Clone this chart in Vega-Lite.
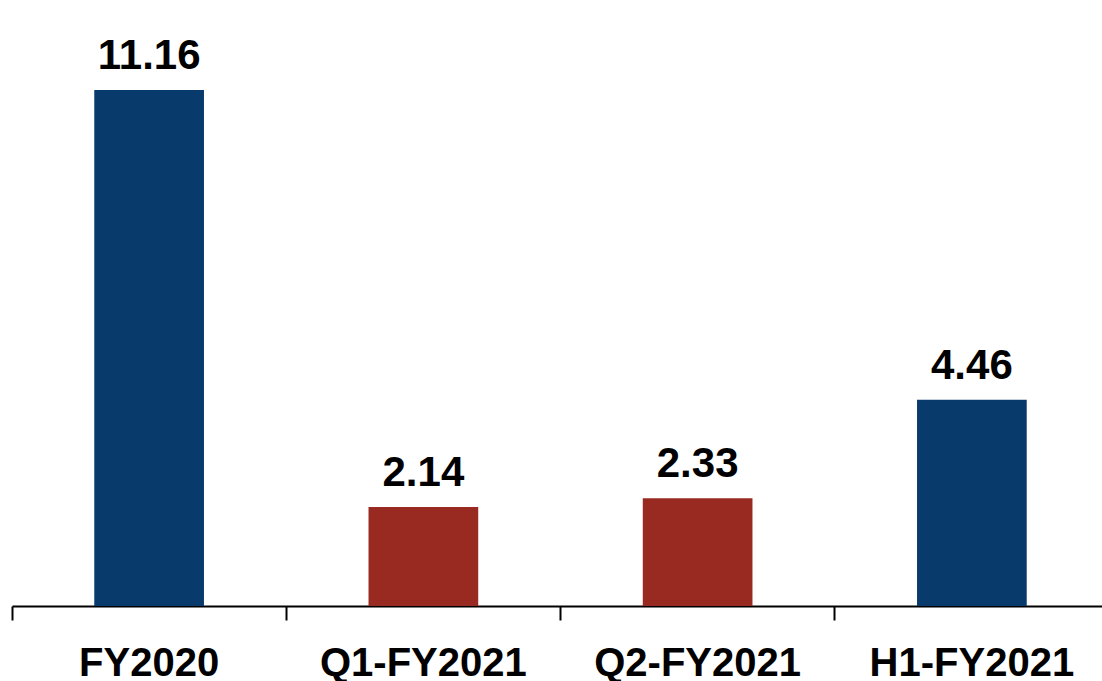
{
  "$schema": "https://vega.github.io/schema/vega-lite/v6.json",
  "autosize": "none",
  "width": 1090,
  "height": 606,
  "padding": {"left": 12, "top": 0, "right": 0, "bottom": 75},
  "background": "white",
  "config": {"view": {"stroke": null}},
  "data": {"values": [
    {"period": "FY2020", "value": 11.16, "type": "annual"},
    {"period": "Q1-FY2021", "value": 2.14, "type": "quarter"},
    {"period": "Q2-FY2021", "value": 2.33, "type": "quarter"},
    {"period": "H1-FY2021", "value": 4.46, "type": "annual"}
  ]},
  "encoding": {
    "x": {"field": "period", "type": "nominal", "sort": null,
      "scale": {"paddingInner": 0, "paddingOuter": 0, "range": [0, 1097]}},
    "y": {"field": "value", "type": "quantitative",
      "scale": {"domain": [0, 13.106], "nice": false, "zero": true}, "axis": null}
  },
  "layer": [
    {
      "mark": {"type": "bar", "width": {"band": 0.4}},
      "encoding": {
        "x": {"field": "period", "type": "nominal", "sort": null,
          "axis": {"orient": "bottom", "title": null, "domain": false, "ticks": false, "labelAngle": 0,
            "labelLimit": 0, "labelFont": "Liberation Sans", "labelFontSize": 40, "labelFontWeight": "bold",
            "labelColor": "black", "labelBaseline": "alphabetic", "labelPadding": 69}},
        "color": {"field": "type", "type": "nominal",
          "scale": {"domain": ["annual", "quarter"], "range": ["#083B6C", "#982A22"]}, "legend": null}
      }
    },
    {
      "mark": {"type": "text", "baseline": "alphabetic", "dy": -21,
        "font": "Liberation Sans", "fontSize": 42, "fontWeight": "bold", "color": "black"},
      "encoding": {
        "x": {"field": "period", "type": "nominal", "sort": null,
          "axis": {"orient": "bottom", "title": null, "labels": false, "domain": true, "domainColor": "black", "domainWidth": 2,
            "ticks": true, "tickColor": "black", "tickWidth": 2, "tickSize": 14, "bandPosition": 0, "grid": false}},
        "text": {"field": "value", "type": "quantitative", "format": ".2f"}
      }
    }
  ],
  "resolve": {"axis": {"x": "independent"}}
}
